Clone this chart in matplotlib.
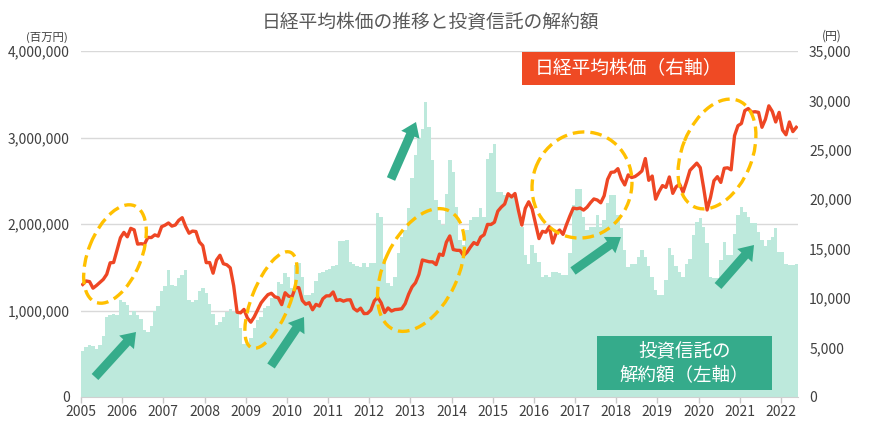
import numpy as np
import matplotlib
matplotlib.use("Agg")
import matplotlib.pyplot as plt
from matplotlib.patches import Ellipse, FancyArrow, Rectangle
from matplotlib.ticker import FuncFormatter

plt.rcParams['font.family'] = ['Noto Sans CJK JP', 'DejaVu Sans']

START_YEAR = 2005
YEARS = list(range(2005, 2023))

# 投資信託の解約額（月次、単位：百万円 × 1,000,000）2005年1月〜2022年5月
redemption_2005 = [0.53, 0.58, 0.60, 0.59, 0.56, 0.60, 0.71, 0.93, 0.95, 0.96, 0.95, 1.12]
redemption_2006 = [1.10, 1.06, 0.95, 1.00, 0.95, 0.90, 0.77, 0.75, 0.82, 1.00, 1.05, 1.23]
redemption_2007 = [1.28, 1.47, 1.30, 1.28, 1.37, 1.41, 1.47, 1.12, 1.10, 1.12, 1.22, 1.26]
redemption_2008 = [1.20, 1.08, 0.96, 0.83, 0.87, 0.93, 0.98, 1.02, 0.98, 0.98, 0.80, 0.61]
redemption_2009 = [0.62, 0.68, 0.80, 0.89, 0.93, 1.03, 1.05, 1.15, 1.15, 1.33, 1.31, 1.43]
redemption_2010 = [1.39, 1.26, 1.53, 1.55, 1.39, 1.18, 1.18, 1.20, 1.34, 1.43, 1.45, 1.47]
redemption_2011 = [1.48, 1.52, 1.53, 1.80, 1.80, 1.81, 1.56, 1.54, 1.52, 1.50, 1.55, 1.50]
redemption_2012 = [1.55, 1.55, 2.13, 2.08, 1.60, 1.32, 1.28, 1.39, 1.66, 1.85, 1.93, 2.18]
redemption_2013 = [2.53, 2.80, 2.99, 3.10, 3.41, 3.12, 2.74, 2.28, 2.05, 1.99, 2.35, 2.74]
redemption_2014 = [2.60, 2.20, 1.81, 1.76, 1.93, 2.05, 2.08, 2.08, 2.19, 2.08, 2.75, 2.82]
redemption_2015 = [2.92, 2.37, 2.37, 2.33, 2.35, 2.35, 2.35, 2.16, 1.97, 1.64, 1.54, 1.76]
redemption_2016 = [1.66, 1.56, 1.39, 1.41, 1.39, 1.45, 1.45, 1.43, 1.41, 1.41, 1.66, 2.22]
redemption_2017 = [2.41, 2.41, 2.08, 1.93, 1.97, 1.97, 2.10, 1.97, 2.05, 2.24, 2.33, 2.33]
redemption_2018 = [2.10, 1.95, 1.70, 1.50, 1.54, 1.54, 1.62, 1.70, 1.62, 1.52, 1.39, 1.24]
redemption_2019 = [1.18, 1.18, 1.35, 1.72, 1.64, 1.52, 1.45, 1.39, 1.54, 1.60, 1.87, 2.02]
redemption_2020 = [2.07, 1.97, 1.78, 1.39, 1.37, 1.37, 1.58, 1.79, 1.64, 1.64, 1.89, 2.10]
redemption_2021 = [2.20, 2.14, 2.08, 2.01, 2.01, 1.91, 1.81, 1.74, 1.81, 1.85, 1.95, 1.68]
redemption_2022 = [1.68, 1.54, 1.53, 1.53, 1.54]

# 日経平均株価（月末値、円）
nikkei_2005 = [11388, 11740, 11669, 11009, 11277, 11584, 11900, 12413, 13574, 13607, 14872, 16111]
nikkei_2006 = [16650, 16205, 17059, 16906, 15467, 15505, 15456, 16140, 16127, 16399, 16274, 17225]
nikkei_2007 = [17383, 17604, 17287, 17400, 17875, 18138, 17248, 16569, 16785, 16737, 15680, 15307]
nikkei_2008 = [13592, 13603, 12525, 13849, 14338, 13481, 13376, 13072, 11259, 8576, 8512, 8859]
nikkei_2009 = [7994, 7568, 8109, 8828, 9522, 9958, 10356, 10492, 10133, 10034, 9345, 10546]
nikkei_2010 = [10198, 10126, 11089, 11057, 9768, 9382, 9537, 8824, 9369, 9202, 9937, 10228]
nikkei_2011 = [10237, 10624, 9755, 9849, 9693, 9816, 9833, 8955, 8700, 8988, 8434, 8455]
nikkei_2012 = [8802, 9723, 10083, 9520, 8542, 9006, 8695, 8839, 8870, 8928, 9446, 10395]
nikkei_2013 = [11138, 11559, 12397, 13860, 13774, 13677, 13668, 13388, 14455, 14327, 15661, 16291]
nikkei_2014 = [14914, 14841, 14827, 14304, 14632, 15162, 15620, 15425, 16173, 16413, 17459, 17450]
nikkei_2015 = [17674, 18797, 19206, 19520, 20563, 20235, 20585, 18890, 17388, 19083, 19747, 19033]
nikkei_2016 = [17518, 16026, 16758, 16666, 17234, 15575, 16569, 16887, 16449, 17425, 18308, 19114]
nikkei_2017 = [19041, 19118, 18909, 19196, 19650, 20033, 19925, 19646, 20356, 22011, 22724, 22764]
nikkei_2018 = [23098, 22068, 21454, 22467, 22201, 22304, 22553, 22865, 24120, 21920, 22351, 20014]
nikkei_2019 = [20773, 21385, 21205, 22258, 20601, 21275, 21521, 20704, 21755, 22927, 23293, 23656]
nikkei_2020 = [23205, 21142, 18917, 20193, 21877, 22288, 21710, 23139, 23185, 22977, 26433, 27444]
nikkei_2021 = [27663, 28966, 29178, 28813, 28860, 28791, 27283, 28089, 29452, 28892, 27821, 28791]
nikkei_2022 = [27001, 26526, 27821, 26847, 27279]

redemption = np.array(
    redemption_2005 + redemption_2006 + redemption_2007 + redemption_2008 + redemption_2009
    + redemption_2010 + redemption_2011 + redemption_2012 + redemption_2013 + redemption_2014
    + redemption_2015 + redemption_2016 + redemption_2017 + redemption_2018 + redemption_2019
    + redemption_2020 + redemption_2021 + redemption_2022) * 1e6
nikkei = np.array(
    nikkei_2005 + nikkei_2006 + nikkei_2007 + nikkei_2008 + nikkei_2009
    + nikkei_2010 + nikkei_2011 + nikkei_2012 + nikkei_2013 + nikkei_2014
    + nikkei_2015 + nikkei_2016 + nikkei_2017 + nikkei_2018 + nikkei_2019
    + nikkei_2020 + nikkei_2021 + nikkei_2022)

n = len(redemption)
edges = START_YEAR + np.arange(n + 1) / 12
mid = START_YEAR + (np.arange(n) + 0.5) / 12

W, H = 886, 422
fig = plt.figure(figsize=(W / 100, H / 100), dpi=100)
ax = fig.add_axes([81 / W, 25 / H, 717 / W, 346 / H])
ax2 = ax.twinx()

TICK_COLOR = '#404040'

# 解約額（左軸）: 月ごとの階段状の面
ax.fill_between(edges, np.append(redemption, redemption[-1]), step='post',
                color='#bde9dc', lw=0, zorder=1)
ax.set_xlim(edges[0], edges[-1])
ax.set_ylim(0, 4_000_000)
ax.set_yticks(np.arange(0, 4_000_001, 1_000_000))
ax.yaxis.set_major_formatter(FuncFormatter(lambda v, p: f'{int(v):,}'))
ax.yaxis.grid(True, color='#d9d9d9', lw=1)
ax.set_axisbelow(True)
ax.set_xticks(YEARS)
ax.set_xticklabels([str(y) for y in YEARS])
ax.tick_params(axis='x', length=4, width=1, color='#c8c8c8', labelsize=10,
               labelcolor=TICK_COLOR, pad=2)
ax.tick_params(axis='y', length=0, labelsize=10, labelcolor=TICK_COLOR, pad=8)
for s in ['top', 'left', 'right']:
    ax.spines[s].set_visible(False)
ax.spines['bottom'].set_color('#d0d0d0')

# 日経平均株価（右軸）
ax2.plot(mid, nikkei, color='#ee4624', lw=2.4, solid_joinstyle='round', zorder=3)
ax2.set_ylim(0, 35000)
ax2.set_yticks(np.arange(0, 35001, 5000))
ax2.yaxis.set_major_formatter(FuncFormatter(lambda v, p: f'{int(v):,}'))
ax2.tick_params(axis='y', length=0, labelsize=10, labelcolor=TICK_COLOR, pad=8)
for s in ax2.spines.values():
    s.set_visible(False)

# 注釈用のオーバーレイ（ピクセル座標、上が0）
ov = fig.add_axes([0, 0, 1, 1], zorder=5)
ov.set_xlim(0, W)
ov.set_ylim(H, 0)
ov.axis('off')
ov.patch.set_alpha(0)

ov.text(430, 22, '日経平均株価の推移と投資信託の解約額', ha='center', va='center',
        fontsize=13.5, color='#595959')
ov.text(47, 37, '(百万円)', ha='center', va='center', fontsize=8.2, color=TICK_COLOR)
ov.text(832, 36, '(円)', ha='center', va='center', fontsize=8.5, color=TICK_COLOR)

# 点線の楕円
ellipses = [((115, 254), 104, 53, -68),
            ((271, 300), 103, 38, -68),
            ((421, 270), 131, 74, -65),
            ((582, 185), 107, 99, -70),
            ((717, 154), 115, 70, -68)]
for c, w, h, a in ellipses:
    ov.add_patch(Ellipse(c, w, h, angle=a, fill=False, edgecolor='#ffc000',
                         lw=2.4, ls=(0, (3.5, 1.8))))

# 緑の矢印
arrows = [((95, 377), (136, 332)),
          ((271, 366), (304, 317)),
          ((391, 179), (416, 122)),
          ((573, 271), (621, 237)),
          ((718, 286), (754, 245))]
for (x0, y0), (x1, y1) in arrows:
    ov.add_patch(FancyArrow(x0, y0, x1 - x0, y1 - y0, width=9, head_width=20,
                            head_length=14, length_includes_head=True,
                            color='#36ac8b', lw=0))

# ラベルボックス
ov.add_patch(Rectangle((522, 52), 213, 33, color='#ef4a24', lw=0))
ov.text(628, 69, '日経平均株価（右軸）', ha='center', va='center', fontsize=13.5, color='white')
ov.add_patch(Rectangle((597, 336), 175, 54, color='#35ab8b', lw=0))
ov.text(685, 351, '投資信託の', ha='center', va='center', fontsize=13.3, color='white')
ov.text(684, 375, '解約額（左軸）', ha='center', va='center', fontsize=13.3, color='white')

fig.savefig('out.png', dpi=100)
